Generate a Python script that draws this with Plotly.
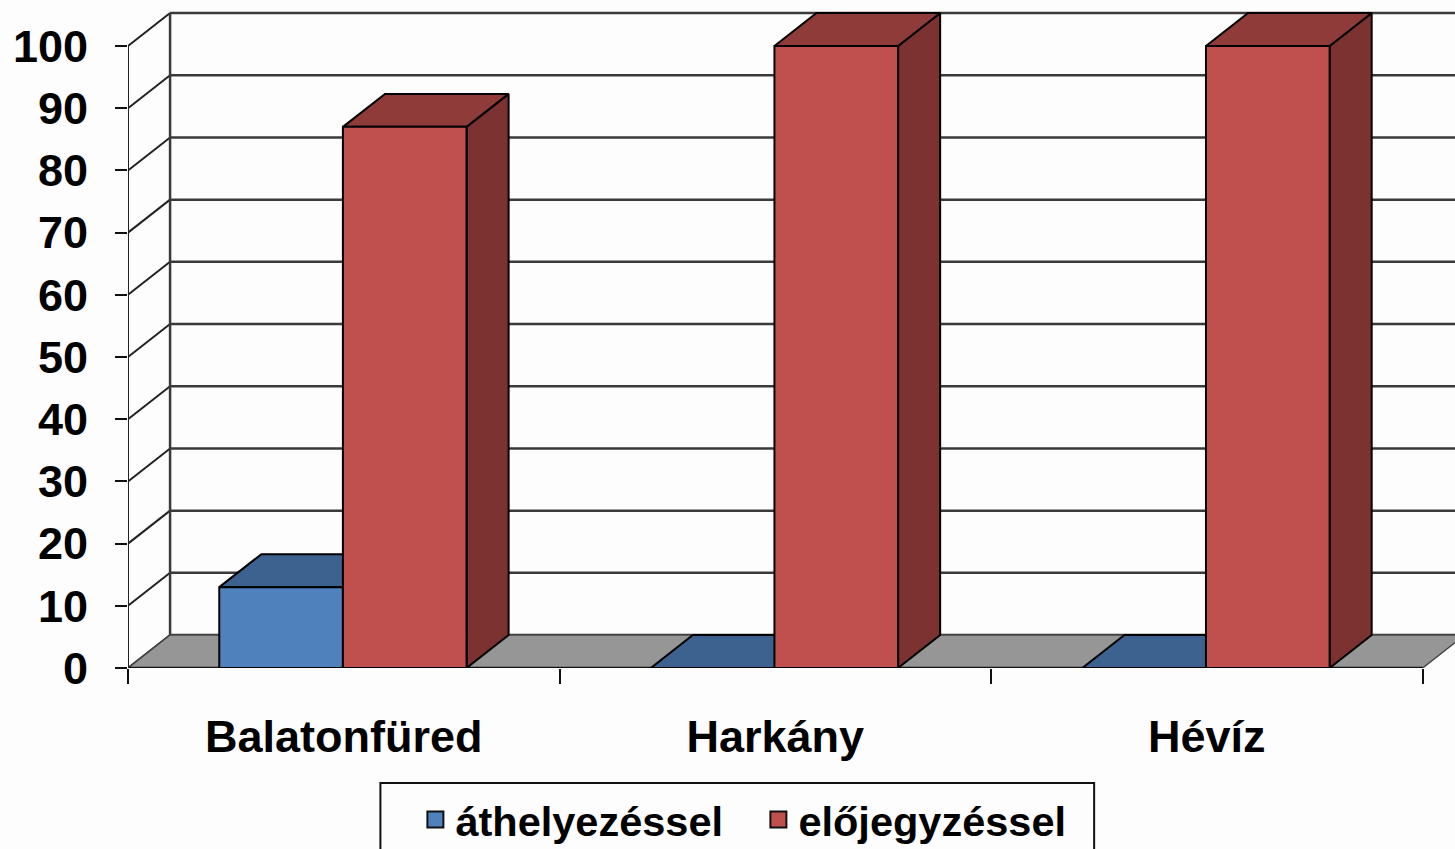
import plotly.graph_objects as go

categories = ["Balatonfüred", "Harkány", "Hévíz"]
athelyezessel = [13, 0, 0]
elojegyzessel = [87, 100, 100]
y_ticks = [0, 10, 20, 30, 40, 50, 60, 70, 80, 90, 100]
series_names = ["áthelyezéssel", "előjegyzéssel"]

# pseudo-3D geometry in axis units
DX, DY = 0.0975, 5.3
GAP, BAR = 0.2115, 0.2865
PX_X, PX_Y = 431.7, 6.22
PLOT_H = 668
X_MAX = (1455 - 127.5) / PX_X
Y_MAX = PLOT_H / PX_Y
EDGE = "#000000"
FONT = "Liberation Sans"

fig = go.Figure()


def poly(xs, ys, fill, line=EDGE, width=2):
    fig.add_trace(go.Scatter(x=xs + xs[:1], y=ys + ys[:1], mode="lines", fill="toself",
                             fillcolor=fill, line=dict(color=line, width=width),
                             hoverinfo="skip", showlegend=False))


def stroke(xs, ys, color="#333333", width=2):
    fig.add_trace(go.Scatter(x=xs, y=ys, mode="lines", line=dict(color=color, width=width),
                             hoverinfo="skip", showlegend=False))


def box(x0, w, h, front, top, side):
    x1 = x0 + w
    poly([x1, x1 + DX, x1 + DX, x1], [0, DY, h + DY, h], side)
    poly([x0, x1, x1 + DX, x0 + DX], [h, h, h + DY, h + DY], top)
    poly([x0, x1, x1, x0], [0, 0, h, h], front)


# back wall grid and side wall
for t in y_ticks:
    stroke([DX, X_MAX + DX], [t + DY, t + DY], "#3a3a3a", 2.5)
    stroke([0, DX], [t, t + DY], "#222222", 2)
stroke([DX, DX], [DY, y_ticks[-1] + DY], "#3a3a3a", 2.5)
stroke([0, 0], [0, y_ticks[-1]], "#222222", 2)

# floor
n = len(categories)
poly([0, n, n + DX, DX], [0, 0, DY, DY], "#969696", "#444444", 1.5)
stroke([0, n], [0, 0], "#111111", 2.5)

# bars
for i in range(n):
    box(i + GAP, BAR, athelyezessel[i], "#4F81BD", "#3D628F", "#3A5D87")
    box(i + GAP + BAR, BAR, elojegyzessel[i], "#C0504D", "#8F3B39", "#7B3230")

# legend entries
for name, color in zip(series_names, ["#4F81BD", "#C0504D"]):
    fig.add_trace(go.Scatter(x=[None], y=[None], mode="markers", name=name,
                             marker=dict(symbol="square", size=16, color=color,
                                         line=dict(color="#111111", width=2))))

plot_w = 1455 - 127.5
fig.update_layout(
    width=1455, height=849, margin=dict(l=127.5, r=0, t=0, b=849 - PLOT_H, autoexpand=False),
    paper_bgcolor="#FDFDFD", plot_bgcolor="#FDFDFD",
    font=dict(family=FONT, color="#000000"),
    xaxis=dict(range=[0, X_MAX], tickmode="array", tickvals=[i + 0.5 for i in range(n)],
               ticktext=[f"<b>{c}</b>" for c in categories], ticks="", showgrid=False,
               zeroline=False, showline=False, tickfont=dict(size=45, family=FONT),
               ticklabelstandoff=38,
               minor=dict(tickmode="array", tickvals=list(range(n + 1)), ticks="outside", ticklen=15,
                          tickwidth=2, tickcolor="#111111", showgrid=False)),
    yaxis=dict(range=[0, Y_MAX], tickmode="array", tickvals=y_ticks,
               ticktext=[f"<b>{t}</b>" for t in y_ticks], ticks="outside", ticklen=12,
               tickwidth=2, tickcolor="#111111", showgrid=False, zeroline=False, showline=False,
               tickfont=dict(size=45, family=FONT), ticklabelstandoff=18),
    legend=dict(orientation="h", xanchor="left", yanchor="top",
                x=(415 - 127.5) / plot_w, y=(PLOT_H - 786) / PLOT_H,
                borderwidth=0, bgcolor="rgba(0,0,0,0)",
                font=dict(size=41.5, family=FONT, color="#000000", weight="bold"),
                itemsizing="trace", itemwidth=30, tracegroupgap=0,
                entrywidth=298, entrywidthmode="pixels"),
    shapes=[dict(type="rect", xref="paper", yref="paper",
                 x0=(380 - 127.5) / plot_w, x1=(1094 - 127.5) / plot_w,
                 y0=(PLOT_H - 860) / PLOT_H, y1=(PLOT_H - 783) / PLOT_H,
                 line=dict(color="#111111", width=2), fillcolor="rgba(0,0,0,0)")],
    showlegend=True,
)

fig.write_html("out.html", config={"displayModeBar": False},
               post_script="document.body.style.margin='0';document.body.style.overflow='hidden';")
